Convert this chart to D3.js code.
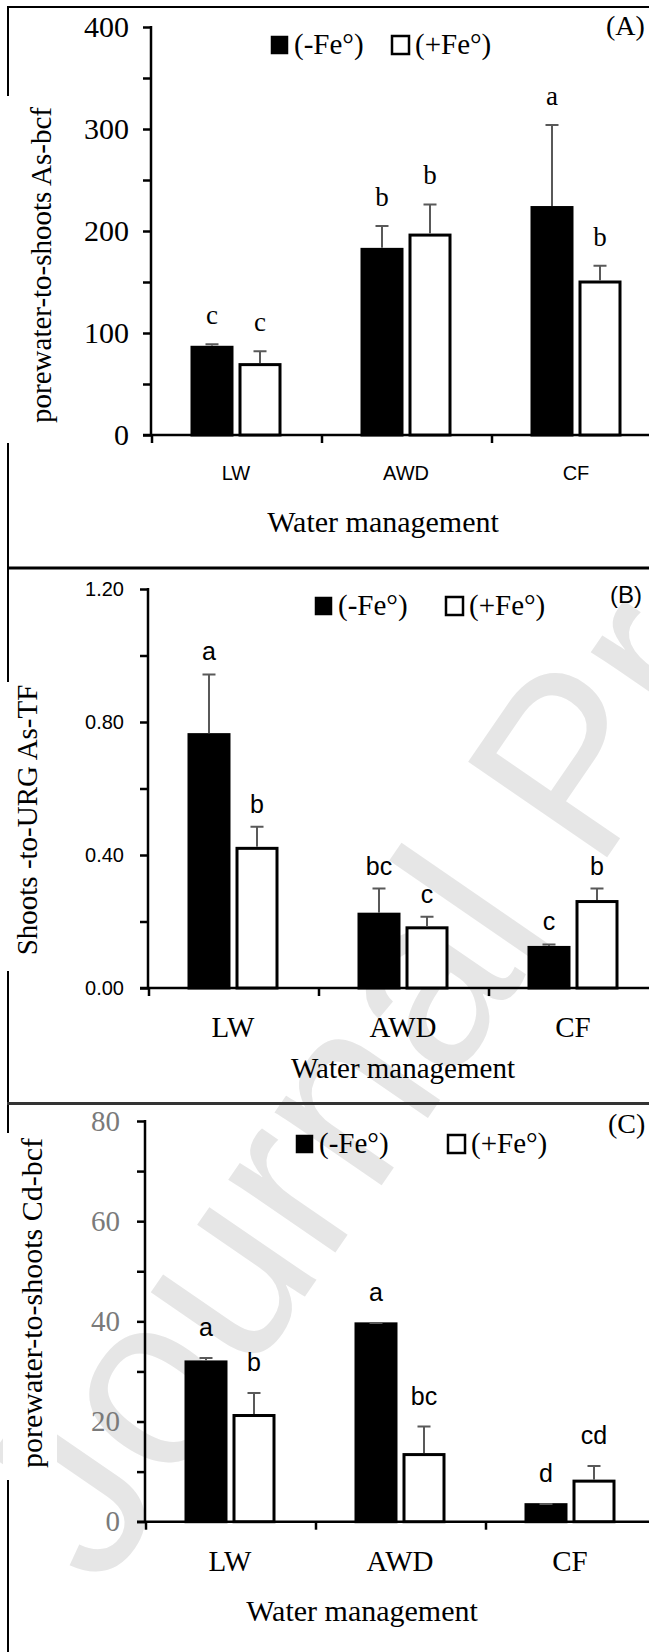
<!DOCTYPE html>
<html lang="en">
  <head>
    <meta charset="utf-8">
    <title>Water management bcf / TF</title>
    <script src="https://d3js.org/d3.v7.min.js"></script>
    <style>
      body { margin: 0; background: #fff; }
      svg { display: block; }
    </style>
  </head>

  <body>

  <script>

// data

  var categories = ["LW", "AWD", "CF"];
  var series = ["(-Fe°)", "(+Fe°)"];

  // (A) porewater-to-shoots As-bcf
  var asBcfMinus = [86, 182, 223];
  var asBcfMinusErr = [3, 23, 81];
  var asBcfPlus = [69, 196, 150];
  var asBcfPlusErr = [13, 30, 16];
  var asBcfLetters = [["c", "b", "a"], ["c", "b", "b"]];
  var asBcfTicks = [0, 100, 200, 300, 400];

  // (B) shoots-to-URG As-TF
  var asTfMinus = [0.762, 0.222, 0.122];
  var asTfMinusErr = [0.181, 0.077, 0.009];
  var asTfPlus = [0.42, 0.181, 0.26];
  var asTfPlusErr = [0.065, 0.033, 0.039];
  var asTfLetters = [["a", "bc", "c"], ["b", "c", "b"]];
  var asTfTicks = [0, 0.4, 0.8, 1.2];

  // (C) porewater-to-shoots Cd-bcf
  var cdBcfMinus = [31.9, 39.5, 3.4];
  var cdBcfMinusErr = [0.8, 0.15, 0.15];
  var cdBcfPlus = [21.2, 13.4, 8.1];
  var cdBcfPlusErr = [4.5, 5.6, 3.0];
  var cdBcfLetters = [["a", "a", "d"], ["b", "bc", "cd"]];
  var cdBcfTicks = [0, 20, 40, 60, 80];

  var W = 649, H = 1652;
  var serif = "'Liberation Serif', 'Times New Roman', serif";
  var sans = "'Liberation Sans', Arial, sans-serif";

  var svg = d3.select("body")
    .append("svg")
      .attr("width", W)
      .attr("height", H);

// watermark

  svg.append("text")
      .attr("transform", "translate(102,1592) rotate(-55.5)")
      .attr("font-family", sans)
      .attr("font-size", 245)
      .attr("fill", "#e6e6e6")
      .text("Journal Pre-proof");

// frame lines

  svg.append("line").attr("x1", 8).attr("x2", 8).attr("y1", 6).attr("y2", H)
      .attr("stroke", "#000").attr("stroke-width", 2);
  svg.append("line").attr("x1", 7).attr("x2", W).attr("y1", 7).attr("y2", 7)
      .attr("stroke", "#000").attr("stroke-width", 2);
  svg.append("line").attr("x1", 7).attr("x2", W).attr("y1", 568).attr("y2", 568)
      .attr("stroke", "#000").attr("stroke-width", 3);
  svg.append("line").attr("x1", 7).attr("x2", W).attr("y1", 1103.5).attr("y2", 1103.5)
      .attr("stroke", "#333").attr("stroke-width", 3);

// one panel

  function panel(p) {

    var g = svg.append("g");

    var y = d3.scaleLinear()
      .domain([0, p.max])
      .range([p.y0, p.yTop]);

    var x = d3.scaleBand()
      .domain(categories)
      .range([p.axisX, p.axisX + 3 * 170]);

    var xSub = d3.scaleBand()
      .domain(series)
      .range([41, 129])
      .paddingInner(0.1667);

    // white box behind the y title (cuts the frame line)
    g.append("rect")
      .attr("x", 3).attr("width", p.labelBox[2])
      .attr("y", p.labelBox[0]).attr("height", p.labelBox[1] - p.labelBox[0])
      .attr("fill", "#fff");

    g.append("text")
      .attr("transform", "translate(" + p.labelX + "," + p.labelY + ") rotate(-90)")
      .attr("text-anchor", "middle")
      .attr("dominant-baseline", "central")
      .attr("font-family", serif)
      .attr("font-size", p.labelSize)
      .text(p.label);

    // y axis
    var yAxis = d3.axisLeft(y)
      .tickValues(d3.range(0, p.max + p.minor / 2, p.minor))
      .tickSize(8)
      .tickPadding(p.tickPad)
      .tickFormat(d => p.ticks.some(t => Math.abs(t - d) < 1e-9) ? p.fmt(d) : "");

    var ya = g.append("g")
      .attr("transform", "translate(" + p.axisX + ",0)")
      .call(yAxis);
    ya.select(".domain").attr("stroke-width", 2.5).attr("d", "M0," + (p.yTop - 1) + "V" + p.y0);
    ya.selectAll(".tick line").attr("stroke-width", 2.5);
    ya.selectAll(".tick text")
      .attr("font-family", p.tickFont)
      .attr("font-size", p.tickSize)
      .attr("fill", p.tickColor);

    // x axis
    var xAxis = d3.axisBottom(x).tickSize(0).tickFormat("");
    var xa = g.append("g")
      .attr("transform", "translate(0," + p.y0 + ")")
      .call(xAxis);
    xa.select(".domain").attr("stroke-width", 2.5)
      .attr("d", "M" + (p.axisX - 8) + ",0H" + W);
    xa.selectAll(".cat")
      .data(categories)
      .enter().append("line")
        .attr("x1", d => x(d) + 1).attr("x2", d => x(d) + 1)
        .attr("y1", 0).attr("y2", 8)
        .attr("stroke", "#000").attr("stroke-width", 2.5);

    g.selectAll(".catlab")
      .data(categories)
      .enter().append("text")
        .attr("x", d => x(d) + x.bandwidth() / 2)
        .attr("y", p.catY)
        .attr("text-anchor", "middle")
        .attr("font-family", p.catFont)
        .attr("font-size", p.catSize)
        .text(d => d);

    g.append("text")
      .attr("x", p.titleX).attr("y", p.titleY)
      .attr("text-anchor", "middle")
      .attr("font-family", serif)
      .attr("font-size", p.titleSize)
      .text("Water management");

    // bars
    var rows = [];
    categories.forEach(function (c, i) {
      series.forEach(function (s, j) {
        rows.push({cat: c, s: s, j: j,
          v: p.values[j][i], e: p.errors[j][i], l: p.letters[j][i]});
      });
    });

    var bw = xSub.bandwidth();

    g.selectAll(".bar")
      .data(rows)
      .enter().append("rect")
        .attr("x", d => x(d.cat) + xSub(d.s))
        .attr("y", d => y(d.v))
        .attr("width", bw)
        .attr("height", d => y(0) - y(d.v))
        .attr("fill", d => d.j === 0 ? "#000" : "#fff")
        .attr("stroke", "#000")
        .attr("stroke-width", 3);

    // error bars
    g.selectAll(".err")
      .data(rows)
      .enter().append("path")
        .attr("d", function (d) {
          var cx = x(d.cat) + xSub(d.s) + bw / 2;
          return "M" + cx + "," + (y(d.v) - 1.5) + "V" + y(d.v + d.e) +
                 "M" + (cx - 6.5) + "," + y(d.v + d.e) + "H" + (cx + 6.5);
        })
        .attr("fill", "none")
        .attr("stroke", "#595959")
        .attr("stroke-width", 2);

    // significance letters
    g.selectAll(".let")
      .data(rows)
      .enter().append("text")
        .attr("x", d => x(d.cat) + xSub(d.s) + bw / 2)
        .attr("y", d => y(d.v + d.e) - p.letterGap)
        .attr("text-anchor", "middle")
        .attr("font-family", p.letterFont)
        .attr("font-size", p.letterSize)
        .text(d => d.l);

    // legend
    series.forEach(function (s, j) {
      g.append("rect")
        .attr("x", p.legX[j]).attr("y", p.legY - 18)
        .attr("width", 17).attr("height", 18)
        .attr("fill", j === 0 ? "#000" : "#fff")
        .attr("stroke", "#000")
        .attr("stroke-width", j === 0 ? 0.5 : 2.5);
      g.append("text")
        .attr("x", p.legX[j] + 23).attr("y", p.legY)
        .attr("font-family", serif)
        .attr("font-size", 29)
        .text(s);
    });

    g.append("text")
      .attr("x", p.tagX).attr("y", p.tagY)
      .attr("font-family", p.tagFont)
      .attr("font-size", p.tagSize)
      .text(p.tag);
  }

  panel({
    max: 400, minor: 50, ticks: asBcfTicks, fmt: d3.format("d"),
    values: [asBcfMinus, asBcfPlus], errors: [asBcfMinusErr, asBcfPlusErr], letters: asBcfLetters,
    axisX: 151, y0: 435, yTop: 27,
    tickFont: serif, tickSize: 30, tickColor: "#000", tickPad: 14,
    label: "porewater-to-shoots As-bcf", labelX: 41, labelY: 265, labelSize: 29, labelBox: [96, 443, 54],
    catFont: sans, catSize: 20, catY: 480,
    titleX: 383, titleY: 532, titleSize: 30,
    letterFont: serif, letterSize: 27, letterGap: 20,
    legX: [271, 392], legY: 54,
    tag: "(A)", tagX: 606, tagY: 35, tagFont: serif, tagSize: 28
  });

  panel({
    max: 1.2, minor: 0.2, ticks: asTfTicks, fmt: d3.format(".2f"),
    values: [asTfMinus, asTfPlus], errors: [asTfMinusErr, asTfPlusErr], letters: asTfLetters,
    axisX: 148, y0: 988, yTop: 589,
    tickFont: sans, tickSize: 20, tickColor: "#000", tickPad: 16,
    label: "Shoots -to-URG As-TF", labelX: 27, labelY: 820, labelSize: 29, labelBox: [682, 971, 48],
    catFont: serif, catSize: 29, catY: 1037,
    titleX: 403, titleY: 1078, titleSize: 29,
    letterFont: sans, letterSize: 25, letterGap: 14,
    legX: [315, 446], legY: 615,
    tag: "(B)", tagX: 610, tagY: 603, tagFont: sans, tagSize: 24
  });

  panel({
    max: 80, minor: 10, ticks: cdBcfTicks, fmt: d3.format("d"),
    values: [cdBcfMinus, cdBcfPlus], errors: [cdBcfMinusErr, cdBcfPlusErr], letters: cdBcfLetters,
    axisX: 145, y0: 1521.7, yTop: 1121,
    tickFont: serif, tickSize: 29, tickColor: "#7a7a7a", tickPad: 17,
    label: "porewater-to-shoots Cd-bcf", labelX: 31, labelY: 1303, labelSize: 30, labelBox: [1133, 1480, 54],
    catFont: serif, catSize: 29, catY: 1571,
    titleX: 362, titleY: 1621, titleSize: 30,
    letterFont: sans, letterSize: 25, letterGap: 22,
    legX: [296, 448], legY: 1153,
    tag: "(C)", tagX: 608, tagY: 1133, tagFont: serif, tagSize: 28
  });

  </script>

  </body>

</html>
